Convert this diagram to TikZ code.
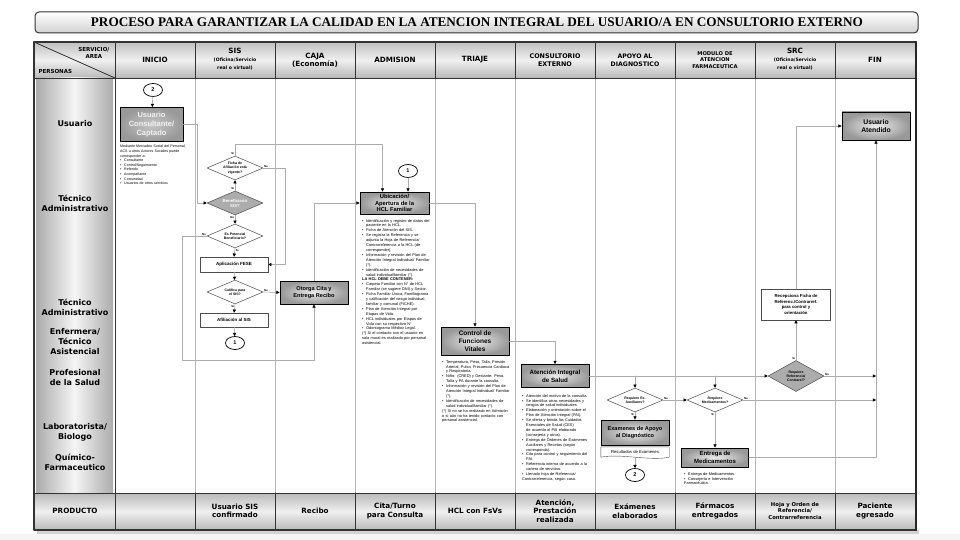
\documentclass[tikz,border=0pt]{standalone}
\usepackage{fontspec}
\setmainfont{Liberation Sans}
\newfontfamily\titlefont{Liberation Serif}
\newfontfamily\headfont{DejaVu Sans}
\usetikzlibrary{shapes.geometric,arrows.meta}
\hyphenpenalty=10000
\newcommand\fsz[2]{\fontsize{#1}{#2}\selectfont}
\newcommand\itm{\par\hangindent=4pt\hangafter=1\noindent\hbox to 4pt{\textbullet\hss}}
\newcommand\plain{\par\noindent}
\begin{document}
\begin{tikzpicture}[yscale=-1, x=1pt, y=1pt, line join=round, line cap=round,
  darkbox/.style={draw=black, line width=0.9pt, inner color=gray!15, outer color=gray!80,
    align=center, inner sep=0pt, font=\bfseries\fsz{6}{7}},
  whitebox/.style={draw=gray!60!black, line width=0.5pt, fill=white, align=center,
    inner sep=0pt, minimum width=68pt, font=\bfseries\fsz{4.5}{5.5}},
  query/.style={diamond, draw=gray!60!black, line width=0.5pt, fill=white, aspect=2.2,
    inner sep=0pt, minimum width=56pt, minimum height=24pt, align=center,
    font=\bfseries\fsz{3.5}{4.2}},
  darkquery/.style={query, fill=gray!65},
  connector/.style={ellipse, draw=black, line width=0.7pt, fill=white, minimum width=19pt,
    minimum height=13pt, inner sep=0pt, font=\bfseries\fsz{5.5}{6}},
  notes/.style={text width=68pt, align=left, inner sep=0pt, anchor=north west,
    font=\fsz{3.9}{4.9}},
  flow/.style={draw=gray!65, line width=0.6pt,
    -{Triangle[length=3.2pt,width=3.2pt,color=black]}},
  tag/.style={font=\bfseries\fsz{2.8}{3}, inner sep=0.6pt},
  rowlabel/.style={font=\headfont\bfseries\fsz{8}{10}, align=center},
  collabel/.style={font=\headfont\bfseries\fsz{7.2}{8.2}, align=center},
  prodlabel/.style={font=\headfont\bfseries\fsz{7.2}{8.4}, align=center},
  colline/.style={draw=gray!55, line width=1pt},
  headline/.style={draw=gray!40!black, line width=0.8pt}]
% Page and frame
\useasboundingbox (0,0) rectangle (960,540);
\fill[white] (0,0) rectangle (960,540);
\fill[gray!8] (0,534) rectangle (960,540);
\shade[top color=white, bottom color=gray!35, rounded corners=4pt] (35,12) rectangle (918,33);
\draw[gray!40!black, line width=1pt, rounded corners=4pt] (35,12) rectangle (918,33);
\node[font=\titlefont\bfseries\fsz{13.2}{14}] (title) at (477,22.5)
  {PROCESO PARA GARANTIZAR LA CALIDAD EN LA ATENCION INTEGRAL DEL USUARIO/A EN CONSULTORIO EXTERNO};
\fill[gray!35] (37,530) rectangle (919,534);
\shade[top color=gray!50, bottom color=gray!55, middle color=gray!12] (34,42) rectangle (916,78);
\shade[left color=gray!65, right color=gray!65, middle color=gray!8] (36,78) rectangle (113,493);
\shade[top color=gray!55, bottom color=gray!55, middle color=gray!12] (34,493) rectangle (916,530);
% Column lines
\draw[colline] (195,78) -- (195,493);
\draw[colline] (275,78) -- (275,493);
\draw[colline] (355,78) -- (355,493);
\draw[colline] (435,78) -- (435,493);
\draw[colline] (515,78) -- (515,493);
\draw[colline] (595,78) -- (595,493);
\draw[colline] (675,78) -- (675,493);
\draw[colline] (755,78) -- (755,493);
\draw[colline] (835,78) -- (835,493);
\draw[headline] (115,42) -- (115,530);
\draw[headline] (195,42) -- (195,78) (195,493) -- (195,530);
\draw[headline] (275,42) -- (275,78) (275,493) -- (275,530);
\draw[headline] (355,42) -- (355,78) (355,493) -- (355,530);
\draw[headline] (435,42) -- (435,78) (435,493) -- (435,530);
\draw[headline] (515,42) -- (515,78) (515,493) -- (515,530);
\draw[headline] (595,42) -- (595,78) (595,493) -- (595,530);
\draw[headline] (675,42) -- (675,78) (675,493) -- (675,530);
\draw[headline] (755,42) -- (755,78) (755,493) -- (755,530);
\draw[headline] (835,42) -- (835,78) (835,493) -- (835,530);
\draw[headline] (34,78) -- (916,78);
\draw[headline] (34,493) -- (916,493);
\draw[headline] (34,42) -- (115,78);
\draw[gray!40!black, line width=1.2pt] (34,42) rectangle (916,530);
\draw[gray!30!black, line width=2.5pt] (916,42) -- (916,530);
% Header
\node[collabel, font=\headfont\bfseries\fsz{5.5}{6.5}, anchor=north east] (servicio) at (113,44) {SERVICIO/\\AREA};
\node[collabel, font=\headfont\bfseries\fsz{5.5}{6.5}, anchor=south west] (personas) at (35,77) {PERSONAS};
\node[collabel] (hinicio) at (155,60) {INICIO};
\node[collabel] (hsis) at (235,59) {SIS\\{\fsz{4.6}{5.4}(Oficina/Servicio}\\{\fsz{4.6}{5.4}real o virtual)}};
\node[collabel] (hcaja) at (315,60) {CAJA\\(Economía)};
\node[collabel] (hadmision) at (395,60) {ADMISION};
\node[collabel] (htriaje) at (475,60) {TRIAJE};
\node[collabel, font=\headfont\bfseries\fsz{6.4}{7.6}] (hconsultorio) at (555,60) {CONSULTORIO\\EXTERNO};
\node[collabel, font=\headfont\bfseries\fsz{6.2}{7.6}] (hapoyo) at (635,60) {APOYO AL\\DIAGNOSTICO};
\node[collabel, font=\headfont\bfseries\fsz{5.2}{6.4}] (hmodulo) at (715,60) {MODULO DE\\ATENCION\\FARMACEUTICA};
\node[collabel] (hsrc) at (795,59) {SRC\\{\fsz{4.6}{5.4}(Oficina/Servicio}\\{\fsz{4.6}{5.4}real o virtual)}};
\node[collabel] (hfin) at (875,60) {FIN};
% Persons
\node[rowlabel] (rusuario) at (75,124) {Usuario};
\node[rowlabel] (rtecnico) at (75,203) {Técnico\\Administrativo};
\node[rowlabel] (rtecnicob) at (75,307) {Técnico\\Administrativo};
\node[rowlabel] (renfermera) at (75,342) {Enfermera/\\Técnico\\Asistencial};
\node[rowlabel] (rprofesional) at (75,378) {Profesional\\de la Salud};
\node[rowlabel] (rlaboratorio) at (75,432) {Laboratorista/\\Biologo};
\node[rowlabel] (rquimico) at (75,462) {Químico-\\Farmaceutico};
% Products
\node[prodlabel] (pproducto) at (75,511) {PRODUCTO};
\node[prodlabel] (psis) at (235,511) {Usuario SIS\\confirmado};
\node[prodlabel] (pcaja) at (315,511) {Recibo};
\node[prodlabel] (padmision) at (395,511) {Cita/Turno\\para Consulta};
\node[prodlabel] (ptriaje) at (475,511) {HCL con FsVs};
\node[prodlabel] (pconsultorio) at (555,511) {Atención,\\Prestación\\realizada};
\node[prodlabel] (papoyo) at (635,511) {Exámenes\\elaborados};
\node[prodlabel] (pmodulo) at (715,511) {Fármacos\\entregados};
\node[prodlabel, font=\headfont\bfseries\fsz{5.3}{6.3}] (psrc) at (795,511) {Hoja y Orden de\\Referencia/\\Contrarreferencia};
\node[prodlabel] (pfin) at (875,511) {Paciente\\egresado};
% Inicio
\node[connector] (inicio2) at (153,90) {2};
\node[darkbox, inner color=gray!45, outer color=gray!80, text=gray!10, minimum width=63pt,
  minimum height=34pt, font=\bfseries\fsz{7.5}{9}] (usuario) at (151.5,124.5) {Usuario\\Consultante/\\Captado};
\node[notes, text width=68pt, font=\fsz{3.6}{4.6}] (usuarionota) at (120,145)
  {Mediante Mercadeo Social del Personal, ACS u otros Actores Sociales puede corresponder a:
  \itm Consultante\itm Control/Seguimiento\itm Referido\itm Acompañante\itm Comunidad
  \itm Usuarios de otros servicios};
% SIS
\node[query] (ficha) at (235,168) {Ficha de\\Afiliación está\\vigente?};
\node[darkquery, text=white, font=\bfseries\fsz{4.3}{5}] (benef) at (235,203) {Beneficiario\\SIS?};
\node[query] (potencial) at (235,236) {Es Potencial\\Beneficiario?};
\node[whitebox, minimum height=15pt] (fese) at (234,264.5) {Aplicación FESE};
\node[query] (califica) at (235,292) {Califica para\\el SIS?};
\node[whitebox, minimum height=14pt] (afiliacion) at (234,320) {Afiliación al SIS};
\node[connector] (sis1) at (235,343) {1};
\coordinate (sisvuelta) at (182,360);
% Caja
\node[darkbox, minimum width=68pt, minimum height=23pt, font=\bfseries\fsz{5.6}{7}] (otorga) at (314,292.5) {Otorga Cita y\\Entrega Recibo};
% Admision
\node[connector] (adm1) at (408,171) {1};
\node[darkbox, minimum width=69pt, minimum height=22pt, font=\bfseries\fsz{5.8}{6.8}] (ubicacion) at (394.5,203) {Ubicación/\\Apertura de la\\HCL Familiar};
\node[notes] (ubicacionnota) at (362,217)
  {\itm Identificación y registro de datos del paciente en la HCL.
  \itm Ficha de Atención del SIS.
  \itm Se registra la Referencia y se adjunta la Hoja de Referencia/ Contrarreferencia a la HCL (de corresponder).
  \itm Información y revisión del Plan de Atención Integral Individual/ Familiar (*).
  \itm Identificación de necesidades de salud individual/familiar (*).
  \plain\textbf{LA HCL DEBE CONTENER:}
  \itm Carpeta Familiar con N° de HCL Familiar (se sugiere DNI) y Sector.
  \itm Ficha Familiar Única, Familiograma y calificación del riesgo individual, familiar y comunal (FICHE).
  \itm Plan de Atención Integral por Etapas de Vida.
  \itm HCL individuales por Etapas de Vida con su respectivo N°
  \itm Odontograma Médico Legal.
  \plain (*) Si el contacto con el usuario en sala mural es realizado por personal asistencial.};
% Triaje
\node[darkbox, minimum width=68pt, minimum height=28pt, font=\bfseries\fsz{6.5}{8}] (vitales) at (475,341) {Control de\\Funciones\\Vitales};
\node[notes] (vitalesnota) at (442,358)
  {\itm Temperatura, Peso, Talla, Presión Arterial, Pulso, Frecuencia Cardiaca y Respiratoria.
  \itm Niño: (CRED) y Gestante: Peso, Talla y PA durante la consulta.
  \itm Información y revisión del Plan de Atención Integral Individual/ Familiar (*).
  \itm Identificación de necesidades de salud individual/familiar (*).
  \plain (*) Si no se ha realizado en Admisión o si aún no ha tenido contacto con personal asistencial.};
% Consultorio
\node[darkbox, minimum width=68pt, minimum height=23pt, font=\bfseries\fsz{6.2}{7.8}] (atencion) at (555,376) {Atención Integral\\de Salud};
\node[notes] (atencionnota) at (522,392)
  {\itm Atención del motivo de la consulta.
  \itm Se identifica otras necesidades y riesgos de salud individuales.
  \itm Elaboración y orientación sobre el Plan de Atención Integral (PAI).
  \itm Se oferta y brinda los Cuidados Esenciales de Salud (CES) de acuerdo al PAI elaborado (consejería y otros).
  \itm Entrega de Órdenes de Exámenes Auxiliares y Recetas (según corresponda).
  \itm Cita para control y seguimiento del PAI.
  \itm Referencia interna de acuerdo a la cartera de servicios.
  \itm Llenado hoja de Referencia/ Contrarreferencia, según caso.};
% Apoyo al diagnostico
\node[query] (auxiliar) at (635,400) {Requiere Ex.\\Auxiliares?};
\node[darkbox, minimum width=68pt, minimum height=25pt, font=\bfseries\fsz{5.6}{7}] (examenes) at (635,432.5) {Examenes de Apoyo\\al Diagnóstico};
\node[font=\fsz{4.2}{5}, minimum width=68pt, minimum height=10pt, inner sep=0pt] (resultados) at (635,452) {Resultados de Exámenes};
\draw[gray!60!black, line width=0.4pt] (resultados.south west) -- (resultados.north west)
  -- (resultados.north east) -- (resultados.south east)
  .. controls +(-20,4) and +(20,-4) .. (resultados.south west);
\node[connector] (apoyo2) at (635,475) {2};
% Modulo farmaceutico
\node[query] (medicamento) at (715,400) {Requiere\\Medicamentos?};
\node[darkbox, minimum width=67pt, minimum height=19pt, font=\bfseries\fsz{6}{7.5}] (entrega) at (715,457.5) {Entrega de\\Medicamentos};
\node[notes] (entreganota) at (684,470)
  {\itm Entrega de Medicamentos.\itm Consejería e Intervención Farmacéutica.};
% SRC
\node[darkquery, minimum height=31pt, aspect=1.7] (referencia) at (796,376) {Requiere\\Referencia/\\Contraref?};
\node[whitebox, minimum height=31pt, minimum width=69pt, font=\bfseries\fsz{4.3}{5.4}] (recepciona) at (796,304.5) {Recepciona Ficha de\\Referenc./Contrarref.\\para control y\\orientación};
% Fin
\node[darkbox, minimum width=68pt, minimum height=28pt, font=\bfseries\fsz{6.8}{8.2}] (atendido) at (876,126) {Usuario\\Atendido};
% Connectors
\draw[flow] (inicio2) -- (usuario);
\draw[flow] (usuario.east) -- ++(14,0) |- (benef.west);
\draw[flow] (benef.north) node[tag, above left] (benefsi) {Si} -- (ficha.south);
\draw[flow] (ficha.north) node[tag, above left] (fichasi) {Si} -- ++(0,-11) -| ([xshift=-12pt]ubicacion.north);
\draw[flow] (ficha.east) node[tag, above right] (fichano) {No} -- ++(22,0) |- (fese.east);
\draw[flow] (benef.south) node[tag, below left] (benefno) {No} -- (potencial.north);
\draw[flow] (potencial.west) node[tag, above left] (potencialno) {No} -| (sisvuelta) -| (otorga.south);
\draw[flow] (potencial.south) node[tag, below right] (potencialsi) {Si} -- (fese.north);
\draw[flow] (fese) -- (califica);
\draw[flow] (califica.east) node[tag, above right] (calificano) {No} -- (otorga.west);
\draw[flow] (califica.south) node[tag, below left] (calificasi) {Si} -- (afiliacion.north);
\draw[flow] (afiliacion) -- (sis1);
\draw[flow] (otorga.north) |- (ubicacion.west);
\draw[flow] (adm1.south) -- (adm1.south |- ubicacion.north);
\draw[flow] (ubicacion.east) -| (vitales.north);
\draw[flow] (vitales.east) -| (atencion.north);
\draw[flow] (atencion.east) -- (referencia.west);
\draw[flow] (atencion.east -| auxiliar.north) -- (auxiliar.north);
\draw[flow] (atencion.east -| medicamento.north) -- (medicamento.north);
\draw[flow] (auxiliar.east) node[tag, above right] (auxiliarno) {No} -- (medicamento.west);
\draw[flow] (auxiliar.south) node[tag, below left] (auxiliarsi) {Si} -- (examenes.north);
\draw[flow] (resultados.south) -- (apoyo2.north);
\draw[flow] (medicamento.south) node[tag, below left] (medicamentosi) {Si} -- (entrega.north);
\draw[flow] (medicamento.east) node[tag, above right] (medicamentono) {No} -- (medicamento.east -| atendido.south);
\draw[flow] (referencia.east) node[tag, above right] (referenciano) {No} -- (referencia.east -| atendido.south);
\draw[flow] (entrega.east) -| (atendido.south);
\draw[flow] (referencia.north) node[tag, above left] (referenciasi) {Si} -- (recepciona.south);
\draw[flow] (recepciona.north) |- (atendido.west);
\end{tikzpicture}
\end{document}
